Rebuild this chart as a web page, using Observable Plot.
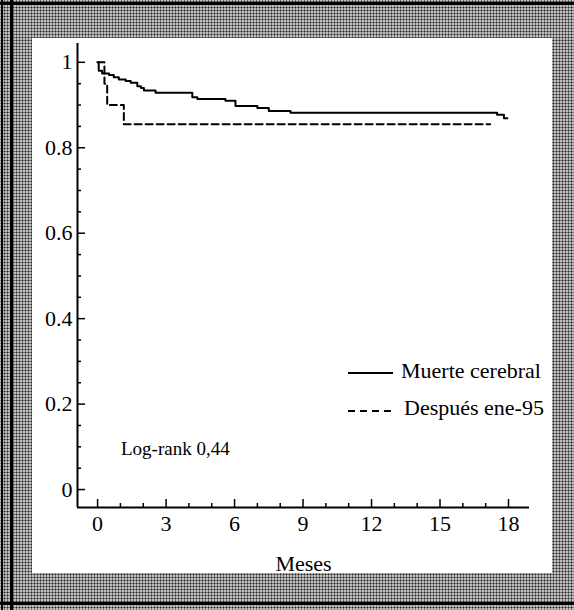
<!DOCTYPE html>
<html><head><meta charset="utf-8">
<script src="https://cdn.jsdelivr.net/npm/d3@7"></script>
<script src="https://cdn.jsdelivr.net/npm/@observablehq/plot@0.6"></script>
<style>
html,body{margin:0;padding:0;}
body{width:574px;height:610px;position:relative;overflow:hidden;background-color:#bdbdbd;
 background-image:radial-gradient(circle,#2a2a2a 0.8px,transparent 1.2px);background-size:3px 3px;
 font-family:"Liberation Serif","Times New Roman",serif;}
#panel{position:absolute;left:32px;top:38px;width:520px;height:535px;background:#fff;}
#chart{position:absolute;left:0;top:0;}
#overlay{position:absolute;left:0;top:0;pointer-events:none;}
.edge{position:absolute;background:#000;}
</style></head>
<body>
<div id="panel"></div>
<div class="edge" style="left:0;top:2px;width:574px;height:3px"></div>
<div class="edge" style="left:10px;top:0;width:3px;height:610px"></div>
<div class="edge" style="left:1px;top:0;width:2px;height:610px"></div>
<div class="edge" style="left:0;top:602px;width:574px;height:3px"></div>
<div id="chart"></div>
<svg id="overlay" width="574" height="610" style="font-family:'Liberation Serif','Times New Roman',serif" fill="#000">
  <line x1="348" y1="373" x2="393" y2="373" stroke="#000" stroke-width="2"/>
  <text x="401" y="378" font-size="22">Muerte cerebral</text>
  <line x1="348" y1="411" x2="393" y2="411" stroke="#000" stroke-width="2" stroke-dasharray="7,5"/>
  <text x="404" y="415" font-size="22">Después ene-95</text>
  <text x="121" y="455" font-size="19">Log-rank 0,44</text>
</svg>
<script>
// Kaplan-Meier estimates
const survMonths = [0, 0.05, 0.2, 0.5, 0.71, 0.93, 1.23, 1.45, 1.74, 1.9, 2.03, 2.54, 4.15, 4.37, 5.6, 6.04, 7.0, 7.5, 8.45, 17.5, 17.8, 17.95];
const survValues = [1, 0.980, 0.974, 0.970, 0.965, 0.960, 0.956, 0.952, 0.944, 0.940, 0.934, 0.929, 0.918, 0.914, 0.910, 0.898, 0.893, 0.886, 0.882, 0.877, 0.869, 0.869];
const afterMonths = [0, 0.3, 0.42, 1.15, 17.2];
const afterValues = [1, 0.95, 0.90, 0.855, 0.855];

const xTicks = [0, 3, 6, 9, 12, 15, 18];
const xMinorTicks = [1, 2, 4, 5, 7, 8, 10, 11, 13, 14, 16, 17];
const yTicks = [0, 0.2, 0.4, 0.6, 0.8, 1];
const yMinorTicks = [0.05, 0.1, 0.15, 0.25, 0.3, 0.35, 0.45, 0.5, 0.55, 0.65, 0.7, 0.75, 0.85, 0.9, 0.95];

const xDomain = [-0.88, 18.92];
const yDomain = [-0.042, 1.044];

const surv = survMonths.map((m, i) => ({m, s: survValues[i]}));
const after = afterMonths.map((m, i) => ({m, s: afterValues[i]}));

const W = 574, H = 610, mL = 77, mR = 45, mT = 43, mB = 103;
const frameW = W - mL - mR, frameH = H - mT - mB;
const serif = "'Liberation Serif', 'Times New Roman', serif";

const chart = Plot.plot({
  width: W, height: H,
  marginLeft: mL, marginRight: mR, marginTop: mT, marginBottom: mB,
  x: {domain: xDomain},
  y: {domain: yDomain},
  style: {background: "transparent", fontFamily: serif, fontSize: "22px", color: "#000", overflow: "visible"},
  marks: [
    Plot.ruleX([xDomain[0]], {stroke: "#000", strokeWidth: 2}),
    Plot.ruleY([yDomain[0]], {stroke: "#000", strokeWidth: 2}),
    Plot.tickX(xMinorTicks, {x: d => d, insetTop: frameH - 4, stroke: "#000", strokeWidth: 1.5}),
    Plot.tickX(xTicks, {x: d => d, insetTop: frameH - 8, stroke: "#000", strokeWidth: 1.5}),
    Plot.tickY(yMinorTicks, {y: d => d, insetRight: frameW - 4, stroke: "#000", strokeWidth: 1.5}),
    Plot.tickY(yTicks, {y: d => d, insetRight: frameW - 8, stroke: "#000", strokeWidth: 1.5}),
    Plot.axisX(xTicks, {tickSize: 0, tickPadding: 8, fontSize: 22, fontFamily: serif, label: "Meses", labelAnchor: "center", labelArrow: "none", labelOffset: 63}),
    Plot.axisY(yTicks, {tickSize: 0, tickPadding: 5, fontSize: 22, fontFamily: serif, tickFormat: d => String(d), label: null}),
    Plot.line(after, {x: "m", y: "s", curve: "step-after", stroke: "#000", strokeWidth: 2, strokeDasharray: "7,4"}),
    Plot.line(surv, {x: "m", y: "s", curve: "step-after", stroke: "#000", strokeWidth: 2})
  ]
});
document.getElementById("chart").appendChild(chart);
</script>
</body></html>
